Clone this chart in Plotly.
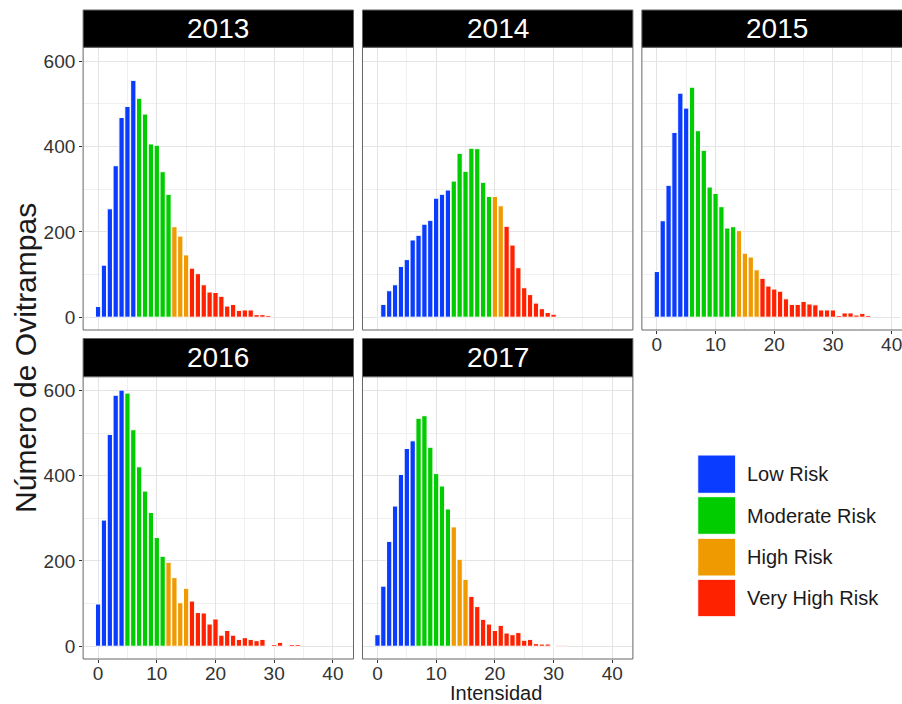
import plotly.graph_objects as go

years = ["2013", "2014", "2015", "2016", "2017"]

counts_2013 = [25, 122, 254, 355, 468, 494, 555, 513, 476, 406, 403, 341, 288, 212, 190, 146,
               115, 102, 76, 59, 58, 49, 26, 30, 16, 17, 17, 6, 6, 4]
counts_2014 = [1, 30, 62, 76, 119, 135, 181, 192, 218, 227, 279, 288, 298, 319, 384, 342,
               396, 395, 316, 283, 283, 261, 213, 169, 116, 69, 53, 33, 20, 11, 7]
counts_2015 = [107, 226, 309, 433, 525, 490, 539, 437, 391, 305, 290, 259, 209, 212, 203, 150,
               141, 111, 91, 73, 66, 61, 43, 30, 30, 37, 31, 29, 17, 17, 17, 4, 10, 10, 5, 9, 4]
counts_2016 = [99, 296, 497, 589, 601, 594, 508, 421, 364, 314, 255, 211, 197, 161, 102, 136,
               106, 79, 78, 52, 64, 26, 37, 26, 16, 20, 16, 13, 16, 0, 4, 9, 0, 4, 4]
counts_2017 = [27, 141, 246, 329, 403, 464, 482, 535, 541, 467, 405, 376, 322, 280, 204, 157,
               117, 93, 63, 52, 37, 49, 31, 27, 32, 14, 16, 6, 5, 5, 0, 2, 2]

# last intensity value belonging to each risk class, per year
low_max = [6, 12, 5, 4, 6]
moderate_max = [12, 19, 13, 11, 12]
high_max = [15, 21, 17, 15, 15]

risk_names = ["Low Risk", "Moderate Risk", "High Risk", "Very High Risk"]
risk_colors = ["#0a3cff", "#00cc00", "#ee9a00", "#ff2200"]

all_counts = [counts_2013, counts_2014, counts_2015, counts_2016, counts_2017]

W, H = 902, 704
FONT = "Liberation Sans, Arial, sans-serif"

def px(x):
    return x / W

def py(y):
    return 1 - y / H

# panel geometry in pixels (left, right, top, bottom)
panels = [
    (83.3, 354.3, 47.3, 330.0),
    (363.3, 634.3, 47.3, 330.0),
    (643.3, 914.3, 47.3, 330.0),
    (83.3, 354.3, 376.7, 659.0),
    (363.3, 634.3, 376.7, 659.0),
]
strips = [(10.0, 47.3), (10.0, 47.3), (10.0, 47.3), (338.5, 376.7), (338.5, 376.7)]
show_x_labels = [False, False, True, True, True]
show_y_labels = [True, False, False, True, False]

xunit = 58.83 / 10.0  # px per unit
ymin, ymax = -30.0, 632.5

fig = go.Figure()
layout = dict(
    width=W, height=H,
    margin=dict(l=0, r=0, t=0, b=0),
    paper_bgcolor="white", plot_bgcolor="white",
    showlegend=False,
    bargap=0.1,
    font=dict(family=FONT, color="#333333"),
)
shapes = []
annotations = []

for i, (yr, counts) in enumerate(zip(years, all_counts)):
    xa = "x" if i == 0 else f"x{i+1}"
    ya = "y" if i == 0 else f"y{i+1}"
    xs = list(range(len(counts)))
    cats = []
    for x in xs:
        if x <= low_max[i]:
            cats.append(0)
        elif x <= moderate_max[i]:
            cats.append(1)
        elif x <= high_max[i]:
            cats.append(2)
        else:
            cats.append(3)
    for c in range(4):
        cx = [x for x, k in zip(xs, cats) if k == c]
        cy = [v for v, k in zip(counts, cats) if k == c]
        fig.add_trace(go.Bar(
            x=cx, y=cy, xaxis=xa, yaxis=ya, width=0.9,
            marker=dict(color=risk_colors[c], line=dict(color="white", width=1)),
            name=risk_names[c], legendgroup=risk_names[c], showlegend=False,
        ))

    L, R, T, B = panels[i]
    dom_r = min(R, W)
    x0 = (L - (L + 15.0)) / xunit  # zero is 15 px right of panel's left edge
    x1 = (dom_r - (L + 15.0)) / xunit
    key_x = "xaxis" if i == 0 else f"xaxis{i+1}"
    key_y = "yaxis" if i == 0 else f"yaxis{i+1}"
    layout[key_x] = dict(
        domain=[px(L), px(dom_r)], anchor=ya, range=[x0, x1],
        tickvals=[0, 10, 20, 30, 40], showticklabels=show_x_labels[i],
        ticks="outside" if show_x_labels[i] else "", ticklen=3, tickcolor="#333333",
        ticklabelstandoff=-6, ticklabeloverflow="allow",
        tickfont=dict(size=19, color="#333333", family=FONT),
        showgrid=True, gridcolor="#e4e4e4", gridwidth=1,
        minor=dict(tickvals=[5, 15, 25, 35], showgrid=True, gridcolor="#f0f0f0", gridwidth=0.7),
        zeroline=False, showline=False, fixedrange=True,
    )
    layout[key_y] = dict(
        domain=[py(B), py(T)], anchor=xa, range=[ymin, ymax],
        tickvals=[0, 200, 400, 600], showticklabels=show_y_labels[i],
        ticks="outside" if show_y_labels[i] else "", ticklen=3, tickcolor="#333333",
        tickfont=dict(size=19, color="#333333", family=FONT),
        showgrid=True, gridcolor="#e4e4e4", gridwidth=1,
        minor=dict(tickvals=[100, 300, 500], showgrid=True, gridcolor="#f0f0f0", gridwidth=0.7),
        zeroline=False, showline=False, fixedrange=True,
    )
    # panel border
    shapes.append(dict(type="rect", xref="paper", yref="paper",
                       x0=px(L), x1=px(R), y0=py(B), y1=py(T),
                       line=dict(color="#666666", width=1), fillcolor="rgba(0,0,0,0)", layer="above"))
    # strip
    st, sb = strips[i]
    shapes.append(dict(type="rect", xref="paper", yref="paper",
                       x0=px(L), x1=px(R), y0=py(sb), y1=py(st),
                       line=dict(color="#666666", width=1), fillcolor="black", layer="above"))
    annotations.append(dict(text=yr, xref="paper", yref="paper",
                            x=px((L + R) / 2), y=py((st + sb) / 2),
                            xanchor="center", yanchor="middle", showarrow=False,
                            font=dict(size=28, color="white", family=FONT)))

# axis titles
annotations.append(dict(text="Número de Ovitrampas", xref="paper", yref="paper",
                        x=px(25), y=py(358), textangle=-90, showarrow=False,
                        xanchor="center", yanchor="middle",
                        font=dict(size=30, color="#1a1a1a", family=FONT)))
annotations.append(dict(text="Intensidad", xref="paper", yref="paper",
                        x=px(497.5), y=py(693), showarrow=False,
                        xanchor="center", yanchor="middle",
                        font=dict(size=20, color="#1a1a1a", family=FONT)))

# legend drawn as keys + labels
key_rows = [(455.0, 493.3), (496.7, 534.3), (538.3, 576.0), (579.3, 616.7)]
for (kt, kb), name, col in zip(key_rows, risk_names, risk_colors):
    shapes.append(dict(type="rect", xref="paper", yref="paper",
                       x0=px(699.3), x1=px(737.3), y0=py(kb), y1=py(kt),
                       line=dict(color="white", width=1), fillcolor=col))
    annotations.append(dict(text=name, xref="paper", yref="paper",
                            x=px(747.0), y=py((kt + kb) / 2), showarrow=False,
                            xanchor="left", yanchor="middle",
                            font=dict(size=20, color="#1a1a1a", family=FONT)))

layout["shapes"] = shapes
layout["annotations"] = annotations
fig.update_layout(**layout)
fig.write_html("out.html", config={"displayModeBar": False},
               post_script="document.body.style.margin='0px';")
